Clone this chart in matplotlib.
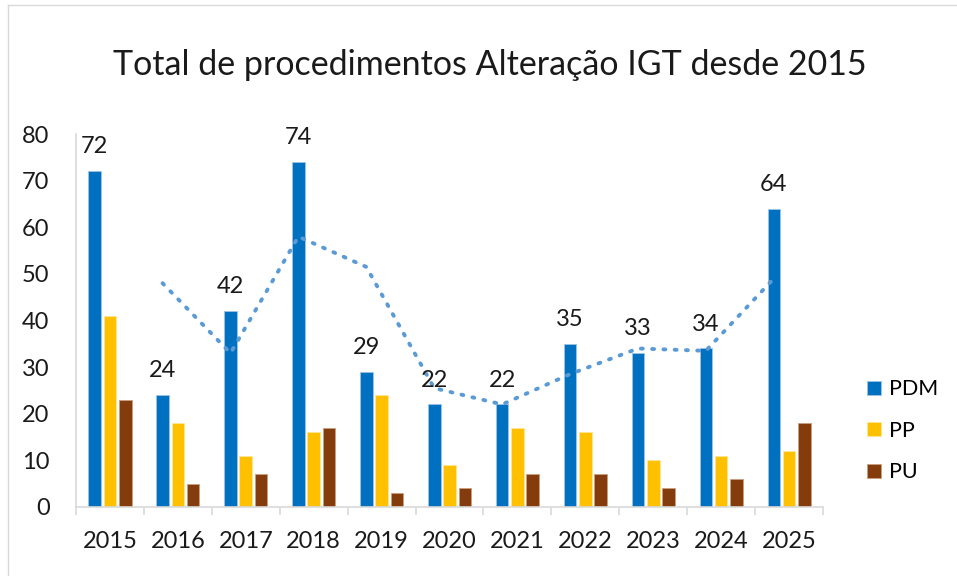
import matplotlib.pyplot as plt
import numpy as np
from matplotlib.lines import Line2D

plt.rcParams['font.family'] = ['Lato', 'DejaVu Sans']

years = ['2015', '2016', '2017', '2018', '2019', '2020', '2021', '2022', '2023', '2024', '2025']
pdm = [72, 24, 42, 74, 29, 22, 22, 35, 33, 34, 64]
pp = [41, 18, 11, 16, 24, 9, 17, 16, 10, 11, 12]
pu = [23, 5, 7, 17, 3, 4, 7, 7, 4, 6, 18]

# moving average (period 2) of PDM, like the Excel trendline
pdm_ma = np.convolve(pdm, [0.5, 0.5], mode='valid')

fig = plt.figure(figsize=(9.57, 5.76), dpi=100)
# chart area border: only top and left edges are visible in the crop
fig.lines.append(Line2D([0.0085, 0.0085], [0.0, 0.991], transform=fig.transFigure,
                        color='#d9d9d9', linewidth=1))
fig.lines.append(Line2D([0.0085, 1.0], [0.991, 0.991], transform=fig.transFigure,
                        color='#d9d9d9', linewidth=1))
ax = fig.add_axes([0.0794, 0.1198, 0.7806, 0.6475])

x = np.arange(len(years)) + 0.5
off = 0.225
w = 0.185
ax.bar(x - off, pdm, w, color='#0070C0', edgecolor='#9dc3e6', linewidth=0.6, label='PDM', zorder=2)
ax.bar(x, pp, w, color='#FFC000', edgecolor='#ffe699', linewidth=0.6, label='PP', zorder=2)
ax.bar(x + off, pu, w, color='#843C0C', edgecolor='#c9a080', linewidth=0.6, label='PU', zorder=2)

ax.plot(x[1:] - off, pdm_ma, color='#5B9BD5', linestyle=(0, (0.5, 2.4)), linewidth=2.8,
        dash_capstyle='round', zorder=3)

for xi, v in zip(x - off, pdm):
    ax.annotate(str(v), (xi, v), xytext=(0, 10), textcoords='offset points',
                ha='center', va='bottom', fontsize=17, color='#1a1a1a')

ax.set_xlim(0, len(years))
ax.set_ylim(0, 80)
ax.set_yticks(range(0, 81, 10))
ax.tick_params(axis='y', length=0, pad=19, labelsize=17, labelcolor='#1a1a1a')

ax.set_xticks(np.arange(len(years) + 1))
ax.set_xticklabels([])
ax.set_xticks(x, minor=True)
ax.set_xticklabels(years, minor=True)
ax.tick_params(axis='x', which='major', length=6, color='#d9d9d9', width=1.2)
ax.tick_params(axis='x', which='minor', length=0, pad=17, labelsize=17, labelcolor='#1a1a1a')

for s in ['top', 'right']:
    ax.spines[s].set_visible(False)
ax.spines['left'].set_color('#d9d9d9')
ax.spines['bottom'].set_color('#d9d9d9')
ax.spines['left'].set_linewidth(1.2)
ax.spines['bottom'].set_linewidth(1.2)

fig.text(0.512, 0.887, 'Total de procedimentos Alteração IGT desde 2015', ha='center', va='center',
         fontsize=24.5, color='#1a1a1a')

fig.legend(loc='center left', bbox_to_anchor=(0.906, 0.252), frameon=False, fontsize=15.5,
           handlelength=0.65, handleheight=0.65, handletextpad=0.35, labelspacing=1.0,
           borderpad=0, borderaxespad=0)

fig.savefig('out.png', dpi=100)
